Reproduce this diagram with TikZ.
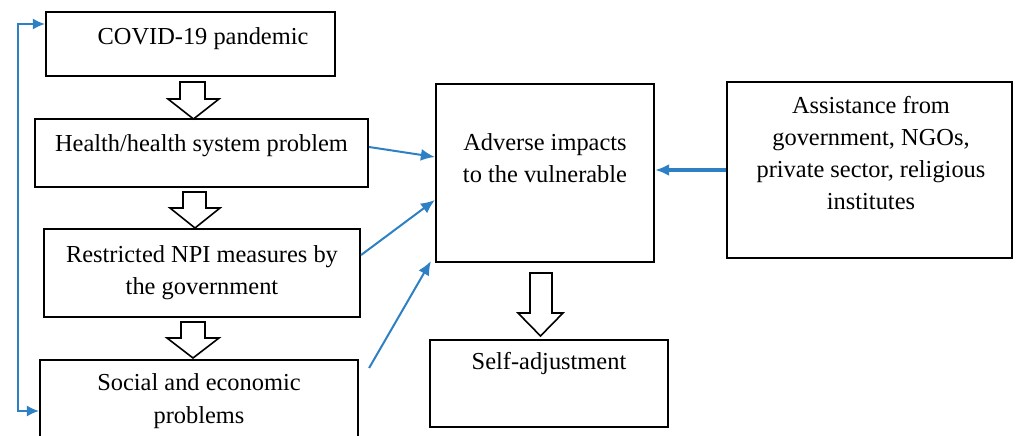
\documentclass[tikz,border=0pt]{standalone}
\usepackage{fontspec}
\setmainfont{Liberation Serif}
\usetikzlibrary{positioning,arrows.meta}
\definecolor{linkblue}{RGB}{46,128,196}

\begin{document}
\begin{tikzpicture}[>={Latex[length=14bp,width=12bp]},line join=miter,
  box/.style={draw,line width=2.2bp,inner sep=0pt},
  txt/.style={font=\fontsize{24.5}{32.4}\selectfont,align=center,inner sep=0pt},
  hollow/.style={draw,fill=white,line width=1.6bp},
  link/.style={draw=linkblue,line width=2bp,->},
  ]
\useasboundingbox (0bp,0bp) rectangle (1016bp,436bp);
%%
\node (node_covid) at (190.5bp,392bp) [box,minimum width=289bp,minimum height=64bp] {};
  \node (node_health) at (201.5bp,283bp) [box,minimum width=333bp,minimum height=68bp] {};
  \node (node_npi) at (202bp,163bp) [box,minimum width=316bp,minimum height=88bp] {};
  \node (node_social) at (199bp,33bp) [box,minimum width=318bp,minimum height=86bp] {};
  \node (node_adverse) at (545bp,263bp) [box,minimum width=218bp,minimum height=178bp] {};
  \node (node_assist) at (869.5bp,266bp) [box,minimum width=285bp,minimum height=176bp] {};
  \node (node_selfadj) at (549bp,52.5bp) [box,minimum width=238bp,minimum height=87bp] {};
%
\node (node_covid_txt) at (203bp,391bp) [txt,anchor=base] {COVID-19 pandemic};
  \node (node_health_txt) at (201.5bp,284bp) [txt,anchor=base] {Health/health system problem};
  \node (node_npi_txt) at (202bp,163bp) [txt] {Restricted NPI measures by\\the government};
  \node (node_social_txt) at (199bp,35bp) [txt] {Social and economic\\problems};
  \node (node_adverse_txt) at (545bp,277.5bp) [txt] {Adverse impacts\\to the vulnerable};
  \node (node_assist_txt) at (871bp,283bp) [txt] {Assistance from\\government, NGOs,\\private sector, religious\\institutes};
  \node (node_selfadj_txt) at (549bp,66bp) [txt,anchor=base] {Self-adjustment};
%
\draw [hollow] (180bp,354bp) -- (180bp,337bp) -- (168bp,337bp) -- (193.5bp,317bp) -- (219bp,337bp) -- (205bp,337bp) -- (205bp,354bp) -- cycle;
  \draw [hollow] (183bp,244bp) -- (183bp,228bp) -- (170bp,228bp) -- (195bp,208bp) -- (220bp,228bp) -- (206bp,228bp) -- (206bp,244bp) -- cycle;
  \draw [hollow] (181bp,114bp) -- (181bp,98bp) -- (167bp,98bp) -- (193bp,78bp) -- (219bp,98bp) -- (205bp,98bp) -- (205bp,114bp) -- cycle;
  \draw [hollow] (530bp,163bp) -- (530bp,123bp) -- (518bp,123bp) -- (540.5bp,100bp) -- (563bp,123bp) -- (552bp,123bp) -- (552bp,163bp) -- cycle;
%
\draw [link] ([yshift=6bp]node_health.east) -- ([yshift=16bp]node_adverse.west);
  \draw [link] ([yshift=18bp]node_npi.east) -- ([yshift=-27bp]node_adverse.west);
  \draw [link] ([xshift=10bp,yshift=35bp]node_social.east) -- ([xshift=-4bp,yshift=2bp]node_adverse.south west);
  \draw [link,line width=3.2bp] (node_assist.west) -- (node_assist.west -| node_adverse.east);
  \draw [link,line width=1.6bp,{Latex[length=12bp,width=11bp]}-{Latex[length=12bp,width=11bp]}] ([yshift=20bp]node_covid.west) -- ++(-27bp,0bp) |- ([yshift=-8bp]node_social.west);
%
\end{tikzpicture}
\end{document}
